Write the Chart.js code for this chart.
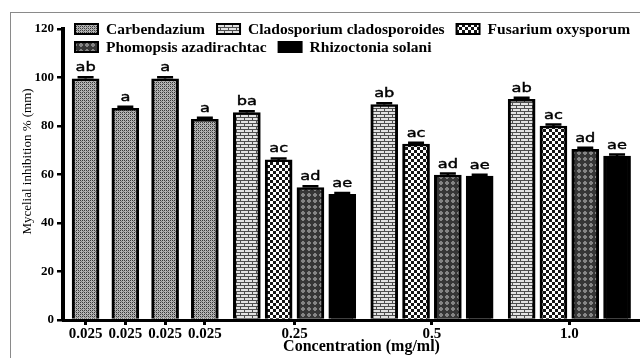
<!DOCTYPE html>
<html>
<head>
<meta charset="utf-8">
<script src="https://cdn.jsdelivr.net/npm/chart.js@4.4.0/dist/chart.umd.min.js"></script>
<style>
  html, body { margin: 0; padding: 0; background: #fff; overflow: hidden; width: 640px; height: 358px; }
  #frame { position: absolute; left: 10px; top: 12px; width: 700px; height: 400px; border: 1.5px solid #8a8a8a; }
  #wrap { position: absolute; left: 0; top: 0; width: 662px; height: 358px; }
</style>
</head>
<body>
<div id="frame"></div>
<div id="wrap"><canvas id="chart" width="662" height="358"></canvas></div>
<script>
// x categories
const singleLabels = ['0.025', '0.025', '0.025', '0.025'];
const groupLabels = ['0.25', '0.5', '1.0'];

// series values (mycelial inhibition %)
const carbendazium = [99.5, 87.3, 99.5, 82.8];
const cladosporium = [85.5, 88.8, 91.0];
const fusarium = [66.0, 72.5, 80.0];
const phomopsis = [54.6, 59.8, 70.4];
const rhizoctonia = [51.8, 59.3, 67.6];

// error bars
const carbendaziumErr = [0.6, 0.6, 0.6, 0.6];
const groupErr = [0.6, 0.6, 0.6];

// letters above bars
const carbendaziumLetters = ['ab', 'a', 'a', 'a'];
const cladosporiumLetters = ['ba', 'ab', 'ab'];
const fusariumLetters = ['ac', 'ac', 'ac'];
const phomopsisLetters = ['ad', 'ad', 'ad'];
const rhizoctoniaLetters = ['ae', 'ae', 'ae'];

const serif = '"Liberation Serif", "Times New Roman", serif';
Chart.defaults.font.family = serif;
Chart.defaults.color = '#000';

// slot layout on a linear x scale
const xMax = 18.77;
const singleX = singleLabels.map((_, i) => 0.71 + i * 1.25);
const groupStart = groupLabels.map((_, g) => singleX[3] + 1.32 + g * 4.32);
const tickPos = singleX.concat(groupStart.map(s => s + 1.5));
const tickLabels = singleLabels.concat(groupLabels);

function makePattern(w, h, draw) {
    const c = document.createElement('canvas');
    c.width = w;
    c.height = h;
    draw(c.getContext('2d'));
    return c.getContext('2d').createPattern(c, 'repeat');
}

const dotted = makePattern(4, 4, (p) => {
    p.fillStyle = '#b4b4b4'; p.fillRect(0, 0, 4, 4);
    p.fillStyle = '#3a3a3a';
    p.fillRect(0, 0, 1, 1); p.fillRect(2, 2, 1, 1);
    p.fillRect(2, 0, 1, 1); p.fillRect(0, 2, 1, 1);
    p.fillStyle = '#7a7a7a';
    p.fillRect(1, 1, 1, 1); p.fillRect(3, 3, 1, 1);
});
const brick = makePattern(16, 6, (p) => {
    p.fillStyle = '#e2e2e2'; p.fillRect(0, 0, 16, 6);
    p.fillStyle = '#4e4e4e';
    p.fillRect(0, 0, 16, 1); p.fillRect(0, 3, 16, 1);
    p.fillRect(0, 1, 1, 2); p.fillRect(8, 1, 1, 2);
    p.fillRect(4, 4, 1, 2); p.fillRect(12, 4, 1, 2);
});
const checker = makePattern(6, 6, (p) => {
    p.fillStyle = '#fff'; p.fillRect(0, 0, 6, 6);
    p.fillStyle = '#151515'; p.fillRect(0, 0, 3, 3); p.fillRect(3, 3, 3, 3);
});
const diamond = makePattern(6, 6, (p) => {
    p.fillStyle = '#363636'; p.fillRect(0, 0, 6, 6);
    p.fillStyle = '#858585';
    p.fillRect(2, 1, 2, 1); p.fillRect(1, 2, 4, 2); p.fillRect(2, 4, 2, 1);
});

const barStyle = {
    borderColor: '#000',
    borderWidth: { top: 2.5, left: 3, right: 3, bottom: 0 },
    borderSkipped: 'start',
    barThickness: 27,
    grouped: false
};

const datasets = [
    Object.assign({ label: 'Carbendazium', backgroundColor: dotted,
        data: carbendazium.map((v, i) => ({ x: singleX[i], y: v })),
        errors: carbendaziumErr, letters: carbendaziumLetters }, barStyle),
    Object.assign({ label: 'Cladosporium cladosporoides', backgroundColor: brick,
        data: cladosporium.map((v, g) => ({ x: groupStart[g], y: v })),
        errors: groupErr, letters: cladosporiumLetters }, barStyle),
    Object.assign({ label: 'Fusarium oxysporum', backgroundColor: checker,
        data: fusarium.map((v, g) => ({ x: groupStart[g] + 1, y: v })),
        errors: groupErr, letters: fusariumLetters }, barStyle),
    Object.assign({ label: 'Phomopsis azadirachtac', backgroundColor: diamond,
        data: phomopsis.map((v, g) => ({ x: groupStart[g] + 2, y: v })),
        errors: groupErr, letters: phomopsisLetters }, barStyle),
    Object.assign({ label: 'Rhizoctonia solani', backgroundColor: '#000',
        data: rhizoctonia.map((v, g) => ({ x: groupStart[g] + 3, y: v })),
        errors: groupErr, letters: rhizoctoniaLetters }, barStyle)
];

// error caps and significance letters
const letterPlugin = {
    id: 'letters',
    afterDatasetsDraw(chart) {
        const { ctx } = chart;
        const yScale = chart.scales.y;
        chart.data.datasets.forEach((ds, di) => {
            chart.getDatasetMeta(di).data.forEach((bar, i) => {
                const top = yScale.getPixelForValue(ds.data[i].y + ds.errors[i]);
                ctx.save();
                ctx.strokeStyle = '#000';
                ctx.lineWidth = 2.5;
                ctx.beginPath();
                ctx.moveTo(bar.x, bar.y);
                ctx.lineTo(bar.x, top);
                ctx.moveTo(bar.x - 8, top);
                ctx.lineTo(bar.x + 8, top);
                ctx.stroke();
                ctx.translate(bar.x, top - 6);
                ctx.scale(1.35, 1);
                ctx.font = '12px "DejaVu Sans", sans-serif';
                ctx.textAlign = 'center';
                ctx.textBaseline = 'alphabetic';
                ctx.fillStyle = '#000';
                ctx.strokeStyle = '#000';
                ctx.lineWidth = 0.4;
                ctx.fillText(ds.letters[i], 0, 0);
                ctx.strokeText(ds.letters[i], 0, 0);
                ctx.restore();
            });
        });
    }
};

// legend drawn inside the plot, with the bar patterns
const legendPlugin = {
    id: 'patternLegend',
    afterDraw(chart) {
        const { ctx } = chart;
        ctx.save();
        ctx.font = 'bold 15.5px ' + serif;
        ctx.textBaseline = 'middle';
        let x = 75, y = 29;
        chart.data.datasets.forEach((ds) => {
            const w = 31 + ctx.measureText(ds.label).width;
            if (x + w > 640) { x = 75; y += 18; }
            ctx.fillStyle = ds.backgroundColor;
            ctx.fillRect(x, y - 5, 23, 10);
            ctx.lineWidth = 2;
            ctx.strokeStyle = '#000';
            ctx.strokeRect(x, y - 5, 23, 10);
            ctx.fillStyle = '#000';
            ctx.fillText(ds.label, x + 31, y + 1);
            x += w + 12;
        });
        ctx.restore();
    }
};

const ctx = document.getElementById('chart').getContext('2d');

new Chart(ctx, {
    type: 'bar',
    data: { datasets: datasets },
    options: {
        responsive: false,
        animation: false,
        layout: { padding: { top: 29, right: 2, bottom: 0, left: 0 } },
        plugins: {
            legend: { display: false },
            tooltip: { enabled: false }
        },
        scales: {
            x: {
                type: 'linear',
                min: 0,
                max: xMax,
                offset: false,
                grid: { offset: false, drawOnChartArea: false, tickLength: 5, lineWidth: 3, color: '#000' },
                border: { color: '#000', width: 3 },
                afterBuildTicks: (scale) => { scale.ticks = tickPos.map(v => ({ value: v })); },
                afterFit: (scale) => { scale.height = 38; },
                ticks: {
                    autoSkip: false,
                    maxRotation: 0,
                    padding: 2,
                    color: '#000',
                    font: { family: serif, size: 15, weight: 'bold', lineHeight: 1 },
                    callback: (value, index) => tickLabels[index]
                },
                title: {
                    display: true,
                    text: 'Concentration (mg/ml)',
                    color: '#000',
                    font: { family: serif, size: 16, weight: 'bold' },
                    padding: { top: 0, bottom: 1.5 }
                }
            },
            y: {
                min: 0,
                max: 120,
                grid: { drawOnChartArea: false, tickLength: 6, lineWidth: 2.5, color: '#000' },
                border: { color: '#000', width: 4 },
                afterFit: (scale) => { scale.width = 63; },
                ticks: {
                    stepSize: 20,
                    padding: 3,
                    color: '#000',
                    font: { family: serif, size: 13, weight: 'bold' }
                },
                title: {
                    display: true,
                    text: '        Mycelial inhibition % (mm)',
                    color: '#000',
                    font: { family: serif, size: 13 },
                    padding: { top: 20, bottom: 0 }
                }
            }
        }
    },
    plugins: [letterPlugin, legendPlugin]
});
</script>
</body>
</html>
